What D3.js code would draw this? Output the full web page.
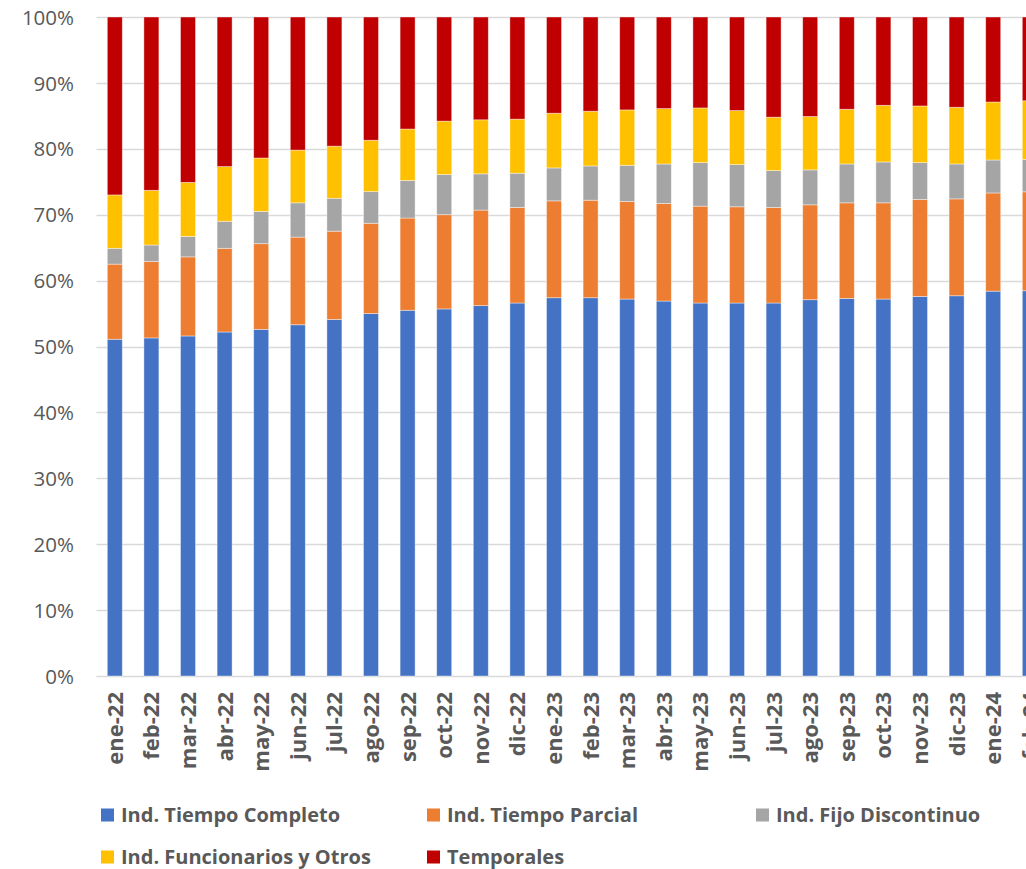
<!DOCTYPE html>
<html>
<head>
<meta charset="utf-8">
<script src="https://cdn.jsdelivr.net/npm/d3@7"></script>
<style>
  html, body { margin: 0; padding: 0; background: #fff; overflow: hidden; }
  svg { display: block; }
  text { font-family: "Open Sans", "Noto Sans", sans-serif; fill: #595959; }
</style>
</head>
<body>
<script>
'use strict';

let months = ['ene-22', 'feb-22', 'mar-22', 'abr-22', 'may-22', 'jun-22', 'jul-22', 'ago-22',
  'sep-22', 'oct-22', 'nov-22', 'dic-22', 'ene-23', 'feb-23', 'mar-23', 'abr-23', 'may-23',
  'jun-23', 'jul-23', 'ago-23', 'sep-23', 'oct-23', 'nov-23', 'dic-23', 'ene-24', 'feb-24'];

// shares in % of each month
let tiempoCompleto = [51.1, 51.3, 51.6, 52.2, 52.6, 53.3, 54.1, 55.0, 55.5, 55.7, 56.2, 56.6, 57.4,
  57.4, 57.2, 56.9, 56.6, 56.6, 56.6, 57.1, 57.3, 57.2, 57.6, 57.7, 58.4, 58.4];
let tiempoParcial = [11.4, 11.6, 12.0, 12.7, 13.0, 13.3, 13.4, 13.7, 14.0, 14.3, 14.5, 14.5, 14.7,
  14.8, 14.8, 14.8, 14.7, 14.6, 14.5, 14.4, 14.5, 14.6, 14.7, 14.7, 14.9, 15.0];
let fijoDiscontinuo = [2.4, 2.5, 3.1, 4.1, 4.9, 5.2, 5.0, 4.8, 5.7, 6.1, 5.5, 5.2, 5.0,
  5.2, 5.5, 6.0, 6.6, 6.4, 5.6, 5.3, 5.9, 6.2, 5.6, 5.3, 5.0, 4.9];
let funcionarios = [8.1, 8.3, 8.2, 8.3, 8.1, 8.0, 7.9, 7.8, 7.8, 8.1, 8.2, 8.2, 8.3,
  8.3, 8.4, 8.4, 8.3, 8.2, 8.1, 8.1, 8.3, 8.6, 8.6, 8.6, 8.8, 8.9];
let temporales = [27.0, 26.3, 25.1, 22.7, 21.4, 20.2, 19.6, 18.7, 17.0, 15.8, 15.6, 15.5, 14.6,
  14.3, 14.1, 13.9, 13.8, 14.2, 15.2, 15.1, 14.0, 13.4, 13.5, 13.7, 12.9, 12.7];

let seriesNames = ['Ind. Tiempo Completo', 'Ind. Tiempo Parcial', 'Ind. Fijo Discontinuo',
  'Ind. Funcionarios y Otros', 'Temporales'];
let seriesColors = ['#4472c4', '#ed7d31', '#a5a5a5', '#ffc000', '#c00000'];
let yTicks = [0, 0.1, 0.2, 0.3, 0.4, 0.5, 0.6, 0.7, 0.8, 0.9, 1];

let width = 1026;
let height = 869;
let plotLeft = 96.5;
let plotTop = 17;
let plotBottom = 676;
let step = 36.6;

let keys = ['tc', 'tp', 'fd', 'fu', 'te'];
let rows = months.map((m, i) => {
  let raw = [tiempoCompleto[i], tiempoParcial[i], fijoDiscontinuo[i], funcionarios[i], temporales[i]];
  let total = d3.sum(raw);
  let row = {month: m};
  keys.forEach((k, j) => { row[k] = raw[j] / total; });
  return row;
});

let stack = d3.stack().keys(keys)(rows);

let x = d3.scaleBand()
  .domain(months)
  .range([plotLeft, plotLeft + step * months.length])
  .paddingInner(0.59)
  .paddingOuter(0.295);

let y = d3.scaleLinear().domain([0, 1]).range([plotBottom, plotTop]);

let svg = d3.select('body').append('svg')
  .attr('width', width)
  .attr('height', height);

// gridlines
svg.append('g')
    .attr('class', 'grid')
  .selectAll('line')
  .data(yTicks)
  .enter().append('line')
    .attr('x1', plotLeft)
    .attr('x2', plotLeft + step * months.length + 20)
    .attr('y1', d => Math.round(y(d)) + 0.5)
    .attr('y2', d => Math.round(y(d)) + 0.5)
    .attr('stroke', '#d9d9d9')
    .attr('stroke-width', 1.6);

// y axis labels
let yAxis = svg.append('g')
  .attr('transform', 'translate(' + 74 + ',0)')
  .call(d3.axisLeft(y).tickValues(yTicks).tickFormat(d3.format('.0%')).tickSize(0).tickPadding(0));
yAxis.select('.domain').remove();
yAxis.selectAll('text')
  .attr('font-size', 20.5)
  .attr('font-family', '"Open Sans", sans-serif')
  .attr('fill', '#595959')
  .attr('dy', '0.35em');

// bars
svg.append('g')
  .selectAll('g')
  .data(stack)
  .enter().append('g')
    .attr('fill', (d, i) => seriesColors[i])
  .selectAll('rect')
  .data(d => d)
  .enter().append('rect')
    .attr('x', d => x(d.data.month))
    .attr('width', x.bandwidth())
    .attr('y', d => y(d[1]))
    .attr('height', d => y(d[0]) - y(d[1]))
    .attr('stroke', '#fff')
    .attr('stroke-opacity', 0.5)
    .attr('stroke-width', 0.8);

// x axis labels
let xAxis = svg.append('g')
  .attr('transform', 'translate(0,' + (plotBottom + 16) + ')')
  .call(d3.axisBottom(x).tickSize(0).tickPadding(0));
xAxis.select('.domain').remove();
xAxis.selectAll('text')
  .attr('font-size', 22)
  .attr('font-weight', 'bold')
  .attr('font-family', '"Open Sans", sans-serif')
  .attr('fill', '#595959')
  .attr('text-anchor', 'end')
  .attr('transform', 'rotate(-90)')
  .attr('x', 0)
  .attr('y', 0)
  .attr('dy', '0.36em');

// legend
let legendPos = [[101, 815], [427, 815], [756, 815], [101, 857], [427, 857]];
let legend = svg.append('g')
  .selectAll('g')
  .data(seriesNames)
  .enter().append('g')
    .attr('transform', (d, i) => 'translate(' + legendPos[i][0] + ',' + legendPos[i][1] + ')');

legend.append('rect')
  .attr('x', 0)
  .attr('y', -6.5)
  .attr('width', 13)
  .attr('height', 13)
  .attr('fill', (d, i) => seriesColors[i]);

legend.append('text')
  .attr('x', 20)
  .attr('dy', '0.36em')
  .attr('font-size', 20)
  .attr('font-weight', 'bold')
  .text(d => d);
</script>
</body>
</html>
